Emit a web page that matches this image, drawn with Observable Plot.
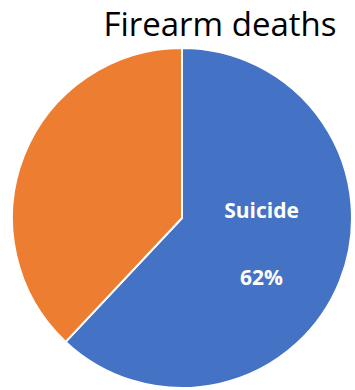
<!DOCTYPE html>
<html>
<head>
<meta charset="utf-8">
<script src="https://cdn.jsdelivr.net/npm/d3@7"></script>
<script src="https://cdn.jsdelivr.net/npm/@observablehq/plot@0.6"></script>
<style>
  html, body { margin: 0; padding: 0; background: #fff; }
</style>
</head>
<body>
<div id="chart"></div>
<script>
// Chart content
const title = "Firearm deaths";
const categories = ["Suicide", "Other"];
const shares = [62, 38];               // percent of firearm deaths
const colors = ["#4472C4", "#ED7D31"];
const labelledCategories = ["Suicide"];

const data = categories.map((category, i) => ({category, share: shares[i], color: colors[i]}));

// Slice angles, clockwise from 12 o'clock, in data order
const arcs = d3.pie().sort(null).value(d => d.share)(data);

// Label anchors in unit-circle coordinates (y grows downward), at half radius on each slice's mid-angle
const labels = arcs
  .filter(a => labelledCategories.includes(a.data.category))
  .map(a => {
    const mid = (a.startAngle + a.endAngle) / 2;
    return {...a.data, ux: 0.5 * Math.sin(mid), uy: -0.5 * Math.cos(mid)};
  });

// Pie mark: uses the x/y scales to find the centre and radius of the unit circle
function pieMark(arcs) {
  return (index, scales) => {
    const cx = scales.x(0), cy = scales.y(0);
    const r = scales.x(1) - scales.x(0);
    const arc = d3.arc().innerRadius(0).outerRadius(r);
    const g = d3.create("svg:g").attr("transform", `translate(${cx},${cy})`);
    g.selectAll("path")
      .data(arcs)
      .join("path")
      .attr("d", arc)
      .attr("fill", d => d.data.color)
      .attr("stroke", "#fff")
      .attr("stroke-width", 2)
      .attr("stroke-linejoin", "round");
    return g.node();
  };
}

const chart = Plot.plot({
  width: 355,
  height: 390,
  margin: 0,
  style: {fontFamily: "'Open Sans', 'Liberation Sans', Arial, sans-serif", background: "#fff"},
  x: {domain: [-1, 1], range: [12, 352], axis: null},
  y: {domain: [-1, 1], range: [48, 388], axis: null},
  marks: [
    pieMark(arcs),
    Plot.text(labels, {
      x: "ux",
      y: "uy",
      text: d => `${d.category}\n\n${d.share}%`,
      fill: "#fff",
      fontWeight: "bold",
      fontSize: 21,
      lineHeight: 1.6,
      dy: -9
    }),
    Plot.text([title], {
      frameAnchor: "top-right",
      text: d => d,
      textAnchor: "end",
      lineAnchor: "top",
      fontSize: 33,
      fill: "#000",
      dx: -19,
      dy: 12.5
    })
  ]
});

document.getElementById("chart").append(chart);
</script>
</body>
</html>
